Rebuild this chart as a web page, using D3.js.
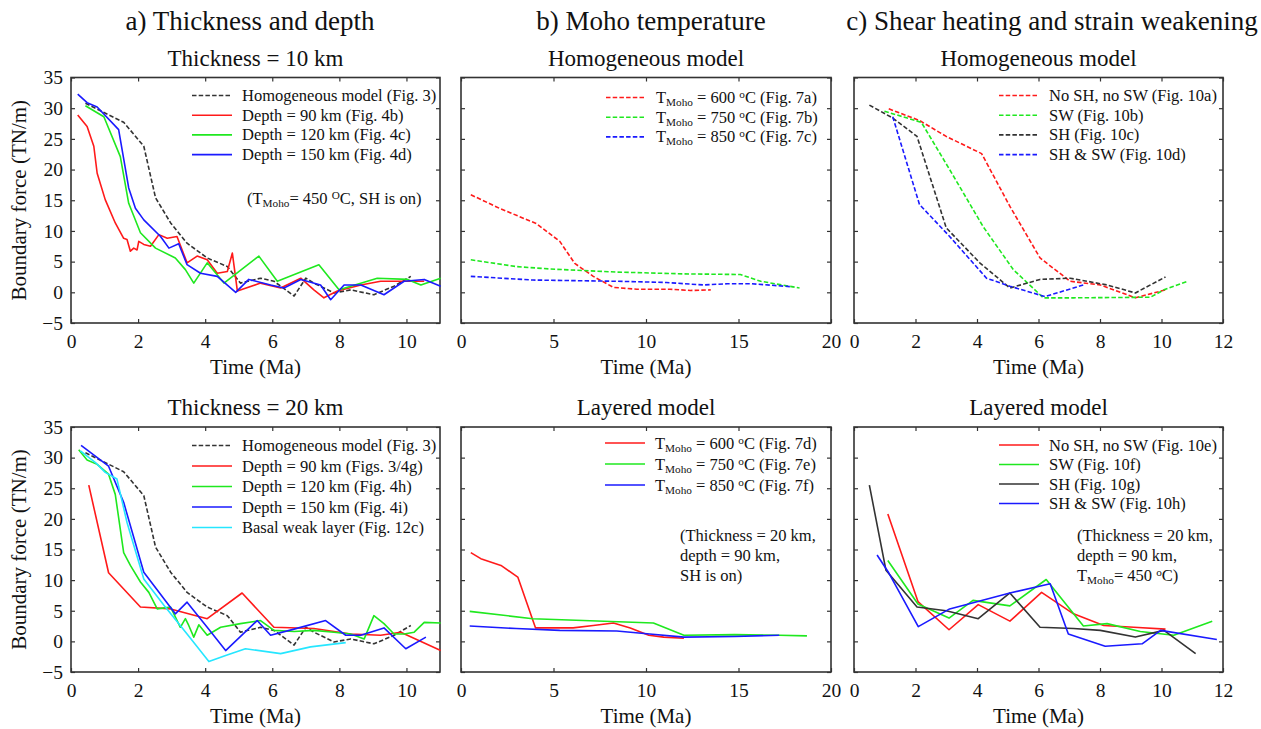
<!DOCTYPE html>
<html>
<head>
<meta charset="utf-8">
<script src="https://cdn.jsdelivr.net/npm/d3@7"></script>
<style>
  body { margin: 0; background: #fff; }
  svg text { font-family: "Liberation Serif", "Times New Roman", Times, serif !important; fill: #111; }
</style>
</head>
<body>
<div id="chart"></div>
<script>

// ---- data (time in Ma, force in TN/m) ----

// a) thickness = 10 km
var homogeneous = [[0.43,30.8],[1.57,27.7],[2.17,23.8],[2.52,15.4],[2.97,11.3],[3.46,8.0],[4.06,5.6],[4.66,4.2],[5.05,1.5],[5.65,2.3],[6.05,1.8],[6.65,-0.6],[7.0,2.3],[7.24,1.5],[7.84,-0.1],[8.34,0.4],[9.03,-0.4],[9.63,1.0],[10.13,2.6]]
var t10_depth90 = [[0.2,28.9],[0.48,27.0],[0.68,23.8],[0.78,19.4],[1.02,15.1],[1.32,11.3],[1.57,8.8],[1.67,8.6],[1.77,6.7],[1.87,7.2],[1.97,6.9],[2.02,8.3],[2.17,7.8],[2.37,7.5],[2.62,9.4],[2.87,8.8],[3.16,9.1],[3.46,4.8],[3.76,5.9],[4.06,5.3],[4.36,3.1],[4.66,3.4],[4.81,6.4],[4.96,0.2],[5.65,1.5],[6.25,0.7],[6.85,2.3],[7.24,0.4],[7.54,-0.9],[7.94,0.2],[8.64,1.2],[9.23,1.8],[10.03,1.8],[10.53,1.8]]
var t10_depth120 = [[0.43,30.4],[0.98,28.6],[1.47,22.1],[1.72,14.5],[2.07,9.7],[2.52,7.2],[3.11,5.6],[3.41,3.7],[3.66,1.5],[4.06,4.8],[4.56,1.5],[5.6,5.9],[6.15,1.8],[7.39,4.5],[7.99,0.4],[8.34,1.0],[9.13,2.3],[10.03,2.1],[10.43,1.2],[11.02,2.3]]
var t10_depth150 = [[0.2,32.3],[0.48,30.9],[0.78,30.2],[1.42,26.5],[1.72,17.0],[1.92,13.7],[2.17,11.8],[2.67,9.1],[2.92,7.2],[3.21,7.9],[3.46,4.5],[3.86,3.1],[4.36,2.6],[4.91,0],[5.3,2.1],[5.95,1.2],[6.35,0.7],[6.85,2.1],[7.44,1.2],[7.74,-1.2],[8.14,1.2],[8.64,1.2],[9.33,-0.4],[9.93,1.8],[10.53,2.1],[11.02,1.0]]

// a) thickness = 20 km
var t20_depth90 = [[0.53,25.5],[1.12,11.2],[2.07,5.6],[2.97,5.3],[4.06,3.7],[5.1,7.9],[6.05,2.3],[7.24,2.1],[8.34,1.2],[9.23,1.0],[9.83,1.5],[11.02,-1.5]]
var t20_depth120 = [[0.23,31.3],[0.48,29.6],[0.78,28.9],[1.12,27.3],[1.32,24.0],[1.57,14.5],[1.77,12.4],[2.07,9.7],[2.32,8.0],[2.57,5.3],[2.97,5.6],[3.26,2.3],[3.41,3.7],[3.51,2.6],[3.66,0.7],[3.81,2.7],[4.06,1.0],[4.46,2.3],[5.05,2.9],[5.65,3.4],[6.05,1.8],[6.65,1.6],[7.24,1.8],[7.84,1.5],[8.34,1.2],[8.74,0.4],[9.03,4.2],[9.33,2.9],[9.63,1.2],[9.93,1.2],[10.23,1.5],[10.53,3.1],[11.02,3.0]]
var t20_depth150 = [[0.3,32.0],[1.12,28.6],[1.57,22.7],[2.17,11.3],[3.11,4.5],[3.46,6.4],[4.06,2.3],[4.61,-1.5],[5.55,3.4],[5.95,1.0],[6.65,2.0],[7.59,3.4],[8.19,1.0],[8.64,1.0],[9.33,2.2],[9.98,-1.2],[10.58,0.7]]
var t20_basalWeak = [[0.28,31.1],[0.73,29.2],[1.02,27.6],[1.37,26.5],[1.67,19.4],[2.17,10.2],[2.77,5.9],[3.46,1.2],[4.11,-3.3],[4.61,-2.3],[5.2,-1.2],[6.25,-2.0],[7.14,-0.9],[8.19,-0.2]]

// b) Moho temperature, homogeneous model
var hom_T600 = [[0.53,15.9],[2.07,13.7],[4.07,11.2],[5.34,8.3],[6.15,4.7],[7.15,2.6],[8.24,0.8],[9.51,0.5],[11.3,0.5],[12.4,0.3],[13.5,0.4]]
var hom_T750 = [[0.53,5.3],[2.98,4.2],[4.79,3.8],[8.42,3.3],[12.05,3.0],[15.1,2.9],[16.2,1.8],[18.3,0.7]]
var hom_T850 = [[0.53,2.6],[3.88,2.0],[8.42,1.8],[11.1,1.6],[13.1,1.2],[14.4,1.4],[15.7,1.4],[17.9,0.9]]

// b) Moho temperature, layered model
var lay_T600 = [[0.53,14.5],[1.07,13.5],[2.16,12.4],[3.07,10.5],[4.03,2.2],[4.79,2.2],[6.06,2.2],[7.15,2.6],[8.24,3.0],[9.15,2.2],[10.15,1.0],[10.96,0.7],[12.05,0.5]]
var lay_T750 = [[0.47,4.9],[3.88,3.7],[6.6,3.4],[10.4,3.0],[12.05,1.0],[14.8,1.1],[17.2,1.0],[18.7,0.9]]
var lay_T850 = [[0.47,2.5],[2.98,2.1],[5.34,1.8],[8.42,1.7],[10.2,1.2],[12.05,0.7],[14.8,0.8],[17.2,1.0]]

// c) shear heating / strain weakening, homogeneous model
var hom_noSHnoSW = [[1.13,29.9],[2.13,28.0],[3.0,25.4],[4.15,22.6],[5.07,14.0],[6.05,5.6],[7.03,1.8],[8.01,1.2],[9.15,-0.9],[10.13,0.4]]
var hom_SW = [[0.99,29.5],[2.19,27.7],[3.11,20.0],[4.2,10.7],[5.18,3.7],[6.16,-0.9],[7.14,-0.9],[9.64,-0.8],[10.08,0.4],[10.84,1.8]]
var hom_SH = [[0.5,30.5],[1.26,28.4],[2.05,25.4],[3.0,10.5],[4.09,4.8],[5.07,0.7],[6.05,2.1],[7.03,2.3],[8.23,1.2],[9.15,-0.1],[10.13,2.5]]
var hom_SHSW = [[1.26,28.6],[2.13,14.3],[3.11,9.1],[4.31,2.3],[5.07,1.0],[6.21,-0.7],[7.46,1.2]]

// c) shear heating / strain weakening, layered model
var lay_noSHnoSW = [[1.1,20.8],[2.08,6.5],[3.09,1.9],[4.04,6.0],[5.07,3.3],[6.1,8.0],[7.14,4.5],[8.12,2.6],[9.1,2.3],[10.13,2.0]]
var lay_SW = [[1.1,13.2],[2.08,6.1],[3.09,3.8],[3.87,6.7],[5.07,5.8],[6.25,10.1],[7.46,2.5],[8.23,2.9],[9.31,1.6],[10.4,1.0],[11.65,3.3]]
var lay_SH = [[0.5,25.5],[1.04,11.6],[2.05,5.6],[3.0,5.0],[4.04,3.7],[5.07,7.9],[6.05,2.3],[7.14,2.1],[8.01,1.8],[9.15,0.7],[10.08,1.8],[11.11,-2.0]]
var lay_SHSW = [[0.75,14.1],[1.13,11.2],[2.09,2.4],[3.11,5.3],[5.07,7.9],[6.38,9.4],[6.97,1.2],[8.17,-0.8],[9.37,-0.4],[9.97,1.8],[11.8,0.3]]

// tick values
var yTicks = [-5, 0, 5, 10, 15, 20, 25, 30, 35]
var xTicksA = [0, 2, 4, 6, 8, 10]
var xTicksB = [0, 5, 10, 15, 20]
var xTicksC = [0, 2, 4, 6, 8, 10, 12]

// text ( _{..} = subscript, ^{..} = superscript )
var columnTitles = ["a) Thickness and depth", "b) Moho temperature", "c) Shear heating and strain weakening"]
var panelTitles = [["Thickness = 10 km", "Homogeneous model", "Homogeneous model"],
                   ["Thickness = 20 km", "Layered model", "Layered model"]]

var RED = "#ff1a1a", GREEN = "#1fe81f", BLUE = "#1a1aff", CYAN = "#26e6ff", BLACK = "#333"
var FONT = "'Liberation Serif', 'Times New Roman', Times, serif"

var panels = [
  { col: 0, row: 0, xmax: 11, xticks: xTicksA, yLabels: true,
    series: [
      { d: homogeneous, c: BLACK, dash: true, label: "Homogeneous model (Fig. 3)" },
      { d: t10_depth90, c: RED, label: "Depth = 90 km (Fig. 4b)" },
      { d: t10_depth120, c: GREEN, label: "Depth = 120 km (Fig. 4c)" },
      { d: t10_depth150, c: BLUE, label: "Depth = 150 km (Fig. 4d)" } ],
    legend: [121, 18], note: { x: 176, y: 126, lines: ["(T_{Moho}= 450 ^{O}C, SH is on)"] } },
  { col: 1, row: 0, xmax: 20, xticks: xTicksB,
    series: [
      { d: hom_T600, c: RED, dash: true, label: "T_{Moho} = 600 ^{o}C (Fig. 7a)" },
      { d: hom_T750, c: GREEN, dash: true, label: "T_{Moho} = 750 ^{o}C (Fig. 7b)" },
      { d: hom_T850, c: BLUE, dash: true, label: "T_{Moho} = 850 ^{o}C (Fig. 7c)" } ],
    legend: [145, 20] },
  { col: 2, row: 0, xmax: 12, xticks: xTicksC,
    series: [
      { d: hom_noSHnoSW, c: RED, dash: true, label: "No SH, no SW (Fig. 10a)" },
      { d: hom_SW, c: GREEN, dash: true, label: "SW (Fig. 10b)" },
      { d: hom_SH, c: BLACK, dash: true, label: "SH (Fig. 10c)" },
      { d: hom_SHSW, c: BLUE, dash: true, label: "SH & SW (Fig. 10d)" } ],
    legend: [145, 18] },
  { col: 0, row: 1, xmax: 11, xticks: xTicksA, yLabels: true,
    series: [
      { d: homogeneous, c: BLACK, dash: true, label: "Homogeneous model (Fig. 3)" },
      { d: t20_depth90, c: RED, label: "Depth = 90 km (Figs. 3/4g)" },
      { d: t20_depth120, c: GREEN, label: "Depth = 120 km (Fig. 4h)" },
      { d: t20_depth150, c: BLUE, label: "Depth = 150 km (Fig. 4i)" },
      { d: t20_basalWeak, c: CYAN, label: "Basal weak layer (Fig. 12c)" } ],
    legend: [121, 18.5, 20.5] },
  { col: 1, row: 1, xmax: 20, xticks: xTicksB,
    series: [
      { d: lay_T600, c: RED, label: "T_{Moho} = 600 ^{o}C (Fig. 7d)" },
      { d: lay_T750, c: GREEN, label: "T_{Moho} = 750 ^{o}C (Fig. 7e)" },
      { d: lay_T850, c: BLUE, label: "T_{Moho} = 850 ^{o}C (Fig. 7f)" } ],
    legend: [144, 16, 21], note: { x: 219, y: 114, lines: ["(Thickness = 20 km,", "depth = 90 km,", "SH is on)"] } },
  { col: 2, row: 1, xmax: 12, xticks: xTicksC,
    series: [
      { d: lay_noSHnoSW, c: RED, label: "No SH, no SW (Fig. 10e)" },
      { d: lay_SW, c: GREEN, label: "SW (Fig. 10f)" },
      { d: lay_SH, c: BLACK, label: "SH (Fig. 10g)" },
      { d: lay_SHSW, c: BLUE, label: "SH & SW (Fig. 10h)" } ],
    legend: [145, 18, 19.5], note: { x: 223, y: 114, lines: ["(Thickness = 20 km,", "depth = 90 km,", "T_{Moho}= 450 ^{o}C)"] } }
]

var width = 1261, height = 729
var colX = [[71, 440], [461, 831], [854, 1223]]
var rowY = [[77.5, 323], [427, 672]]

var svg = d3.select("#chart").append("svg")
  .attr("width", width)
  .attr("height", height)
  .attr("font-family", FONT)

// write text with _{sub} and ^{sup} parts as tspans
function richText(sel, str, size) {
  var re = /(_\{[^}]*\}|\^\{[^}]*\})/g
  str.split(re).forEach(function(part) {
    if (!part) return
    if (part[0] == "_") {
      sel.append("tspan").attr("font-size", size * 0.68).attr("baseline-shift", "-28%").text(part.slice(2, -1))
    } else if (part[0] == "^") {
      sel.append("tspan").attr("font-size", size * 0.68).attr("baseline-shift", "45%").text(part.slice(2, -1))
    } else {
      sel.append("tspan").text(part)
    }
  })
}

var colCenters = [250, 651, 1052]
columnTitles.forEach(function(t, i) {
  svg.append("text").attr("x", colCenters[i]).attr("y", 30)
    .attr("text-anchor", "middle").attr("font-size", 27).text(t)
})

panels.forEach(function(p) {
  var x0 = colX[p.col][0], x1 = colX[p.col][1]
  var y0 = rowY[p.row][0], y1 = rowY[p.row][1]

  var x = d3.scaleLinear().domain([0, p.xmax]).range([x0, x1])
  var y = d3.scaleLinear().domain([-5, 35]).range([y1, y0])

  var g = svg.append("g")

  // panel title
  g.append("text").attr("x", (x0 + x1) / 2).attr("y", y0 - 12)
    .attr("text-anchor", "middle").attr("font-size", 23)
    .text(panelTitles[p.row][p.col])

  // axes with inward ticks on all sides
  var bottom = g.append("g").attr("transform", "translate(0," + y1 + ")")
    .call(d3.axisBottom(x).tickValues(p.xticks).tickSizeInner(-4).tickSizeOuter(0).tickPadding(11))
  var top = g.append("g").attr("transform", "translate(0," + y0 + ")")
    .call(d3.axisTop(x).tickValues(p.xticks).tickSizeInner(-4).tickSizeOuter(0).tickFormat(""))
  var left = g.append("g").attr("transform", "translate(" + x0 + ",0)")
    .call(d3.axisLeft(y).tickValues(yTicks).tickSizeInner(-4).tickSizeOuter(0).tickPadding(8)
      .tickFormat(p.yLabels ? d3.format("d") : ""))
  var right = g.append("g").attr("transform", "translate(" + x1 + ",0)")
    .call(d3.axisRight(y).tickValues(yTicks).tickSizeInner(-4).tickSizeOuter(0).tickFormat(""))

  ;[bottom, top, left, right].forEach(function(a) {
    a.attr("font-family", FONT)
    a.select(".domain").remove()
    a.selectAll(".tick line").attr("stroke", "#333").attr("stroke-width", 1.2)
    a.selectAll(".tick text").attr("font-size", 19.5).attr("fill", "#111")
  })

  g.append("rect").attr("x", x0).attr("y", y0).attr("width", x1 - x0).attr("height", y1 - y0)
    .attr("fill", "none").attr("stroke", "#333").attr("stroke-width", 1.6)

  g.append("text").attr("x", (x0 + x1) / 2).attr("y", y1 + 51)
    .attr("text-anchor", "middle").attr("font-size", 21).text("Time (Ma)")

  if (p.yLabels) {
    g.append("text")
      .attr("transform", "translate(26," + ((y0 + y1) / 2) + ") rotate(-90)")
      .attr("text-anchor", "middle").attr("font-size", 21).text("Boundary force (TN/m)")
  }

  // series lines
  var line = d3.line().x(function(d) { return x(d[0]) }).y(function(d) { return y(d[1]) })
  p.series.forEach(function(s) {
    g.append("path").datum(s.d)
      .attr("d", line)
      .attr("fill", "none")
      .attr("stroke", s.c)
      .attr("stroke-width", 1.6)
      .attr("stroke-linejoin", "round")
      .attr("stroke-dasharray", s.dash ? "4.5,2.2" : null)
  })

  // legend
  var lx = x0 + p.legend[0], ly = y0 + p.legend[1], step = p.legend[2] || 19.7
  p.series.forEach(function(s, i) {
    var yy = ly + i * step
    g.append("line").attr("x1", lx).attr("x2", lx + 40).attr("y1", yy).attr("y2", yy)
      .attr("stroke", s.c).attr("stroke-width", 1.6)
      .attr("stroke-dasharray", s.dash ? "4.5,2.2" : null)
    var t = g.append("text").attr("x", lx + 50).attr("y", yy + 5.5).attr("font-size", 16.5)
    richText(t, s.label, 16.5)
  })

  if (p.note) {
    p.note.lines.forEach(function(l, i) {
      var t = g.append("text").attr("x", x0 + p.note.x).attr("y", y0 + p.note.y + i * 20).attr("font-size", 16.5)
      richText(t, l, 16.5)
    })
  }
})

</script>
</body>
</html>
